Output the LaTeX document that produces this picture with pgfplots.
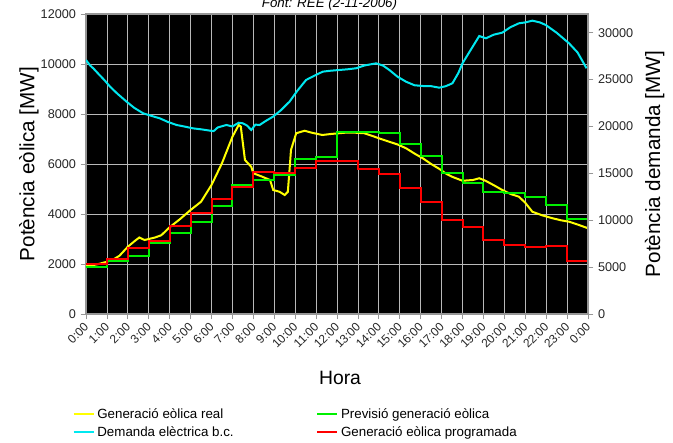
\documentclass[border=0pt]{standalone}
\usepackage{pgfplots}
\pgfplotsset{compat=1.18}
\usepackage{fontspec}
\setmainfont{Liberation Sans}
\definecolor{cyanD}{RGB}{0,232,240}
\definecolor{yel}{RGB}{255,255,0}
\definecolor{grn}{RGB}{0,240,0}
\definecolor{rd}{RGB}{255,0,0}
\definecolor{gridc}{RGB}{185,185,185}
\definecolor{axc}{RGB}{150,150,150}
\begin{document}
\begin{tikzpicture}
\useasboundingbox (-64.5pt,-96pt) rectangle (440.25pt,235.5pt);
\begin{axis}[
  at={(0,0)}, anchor=south west,
  scale only axis, width=376.5pt, height=225pt,
  clip mode=individual,
  xmin=0, xmax=24, ymin=0, ymax=12000,
  scaled y ticks=false, scaled x ticks=false,
  xtick={0,1,...,24},
  xticklabels={0:00,1:00,2:00,3:00,4:00,5:00,6:00,7:00,8:00,9:00,10:00,11:00,12:00,13:00,14:00,15:00,16:00,17:00,18:00,19:00,20:00,21:00,22:00,23:00,0:00},
  ytick={0,2000,...,12000},
  xtick pos=left, ytick pos=left,
  tick align=outside, major tick length=4pt,
  tick style={axc, line width=0.6pt},
  axis line style={axc, line width=0.8pt},
  axis background/.style={fill=black},
  grid=major, major grid style={gridc, line width=0.6pt},
  /pgf/number format/assume math mode=true,
  /pgf/number format/1000 sep={},
  yticklabel style={font=\fontsize{9.5}{11}\selectfont, text=black!85},
  xticklabel style={font=\fontsize{9}{11}\selectfont, text=black!85, rotate=45, anchor=east, inner sep=1pt, xshift=-1.5pt, yshift=-3pt},
  xlabel={Hora},
  xlabel style={font=\fontsize{14.5}{16}\selectfont, at={(axis description cs:0.506,-0.213)}, anchor=center},
  ylabel={Potència eòlica [MW]},
  ylabel style={font=\fontsize{15.5}{17}\selectfont, at={(axis description cs:-0.1135,0.5)}, anchor=center, rotate=0},
  legend columns=2,
  legend cell align=left,
  legend style={at={(axis description cs:-0.035,-0.296)}, anchor=north west, draw=none, fill=none,
    font=\fontsize{10}{12}\selectfont, row sep=0.5pt,
    /tikz/every even column/.append style={column sep=60pt}},
  legend image code/.code={\draw[#1] (0pt,0pt) -- (15pt,0pt);},
]
\addplot[yel, line width=1.5pt] coordinates {
(0,1920) (0.3,1950) (0.6,2000) (1.0,2090) (1.3,2180) (1.6,2330) (2.0,2690) (2.3,2900) (2.55,3060) (2.8,2960) (3.0,3000) (3.3,3060) (3.6,3150) (4.0,3470) (4.5,3800) (5.0,4160) (5.5,4490) (6.0,5160) (6.5,6030) (7.0,7090) (7.3,7560) (7.4,7500) (7.5,6830) (7.6,6160) (7.9,5890) (8.0,5630) (8.4,5500) (8.8,5360) (8.95,4960) (9.25,4890) (9.5,4760) (9.65,4890) (9.73,5760) (9.8,6560) (9.9,6830) (10.05,7230) (10.45,7330) (10.8,7250) (11.3,7160) (11.7,7200) (12.1,7230) (12.5,7260) (12.9,7250) (13.3,7230) (13.7,7120) (14.1,7000) (14.5,6890) (14.9,6780) (15.3,6630) (15.7,6420) (16.1,6230) (16.5,6000) (16.9,5800) (17.2,5620) (17.5,5490) (18.0,5330) (18.5,5360) (18.8,5430) (19.1,5330) (19.5,5150) (19.9,4960) (20.3,4800) (20.7,4690) (21.0,4450) (21.34,4090) (21.8,3950) (22.3,3830) (22.7,3750) (23.1,3690) (23.5,3580) (24.0,3430)
};
\addlegendentry{Generació eòlica real}
\addplot[grn, line width=1.5pt, const plot] coordinates {
(0,1890) (1,2110) (2,2320) (3,2850) (4,3230) (5,3690) (6,4320) (7,5170) (8,5360) (9,5560) (10,6200) (11,6270) (12,7290) (13,7290) (14,7230) (15,6790) (16,6330) (17,5650) (18,5230) (19,4870) (20,4830) (21,4690) (22,4360) (23,3790) (24,3790)
};
\addlegendentry{Previsió generació eòlica}
\addlegendimage{cyanD, line width=1.5pt}
\addlegendentry{Demanda elèctrica b.c.}
\addplot[rd, line width=1.5pt, const plot] coordinates {
(0,2000) (1,2200) (2,2640) (3,2930) (4,3520) (5,4050) (6,4600) (7,5090) (8,5680) (9,5630) (10,5850) (11,6130) (12,6100) (13,5790) (14,5590) (15,5040) (16,4480) (17,3760) (18,3470) (19,2950) (20,2770) (21,2690) (22,2720) (23,2110) (24,2110)
};
\addlegendentry{Generació eòlica programada}
\node[anchor=base, font=\itshape\fontsize{10}{12}\selectfont, yshift=5pt] at (axis description cs:0.485,1) {Font: REE (2-11-2006)};
\end{axis}
\begin{axis}[
  at={(0,0)}, anchor=south west,
  scale only axis, width=376.5pt, height=225pt,
  xmin=0, xmax=24, ymin=0, ymax=32000,
  scaled y ticks=false,
  axis x line=none,
  axis y line*=right,
  ytick={0,5000,...,30000},
  tick align=outside, major tick length=4pt,
  tick style={axc, line width=0.6pt},
  axis line style={axc, line width=0.8pt},
  /pgf/number format/assume math mode=true,
  /pgf/number format/1000 sep={},
  yticklabel style={font=\fontsize{9.5}{11}\selectfont, text=black!85},
  ylabel={Potència demanda [MW]},
  ylabel style={font=\fontsize{15.5}{17}\selectfont, at={(axis description cs:1.133,0.5)}, anchor=center, rotate=0},
]
\addplot[cyanD, line width=1.5pt] coordinates {
(0,27090) (0.2,26500) (0.35,26200) (0.6,25600) (0.9,24900) (1.15,24250) (1.5,23500) (1.94,22650) (2.3,22000) (2.73,21410) (3.1,21150) (3.53,20870) (3.9,20500) (4.33,20160) (4.7,20000) (5.12,19800) (5.5,19700) (5.92,19560) (6.1,19500) (6.3,19900) (6.71,20160) (7.0,20000) (7.3,20400) (7.5,20340) (7.7,20100) (7.9,19630) (8.1,20200) (8.3,20160) (8.6,20600) (8.94,21050) (9.3,21700) (9.73,22650) (10.1,23800) (10.52,24960) (10.9,25400) (11.32,25850) (11.7,25950) (12.12,26030) (12.5,26100) (12.91,26210) (13.3,26500) (13.87,26740) (14.2,26500) (14.5,26030) (14.9,25300) (15.3,24780) (15.7,24400) (16.1,24320) (16.5,24300) (16.89,24140) (17.2,24300) (17.52,24610) (17.8,25700) (18.0,26740) (18.4,28200) (18.8,29650) (19.12,29410) (19.5,29800) (19.9,30010) (20.3,30600) (20.7,31010) (21.0,31100) (21.34,31290) (21.7,31100) (21.98,30830) (22.5,30000) (23.09,28880) (23.5,27900) (23.93,26210)
};
\end{axis}
\end{tikzpicture}
\end{document}
